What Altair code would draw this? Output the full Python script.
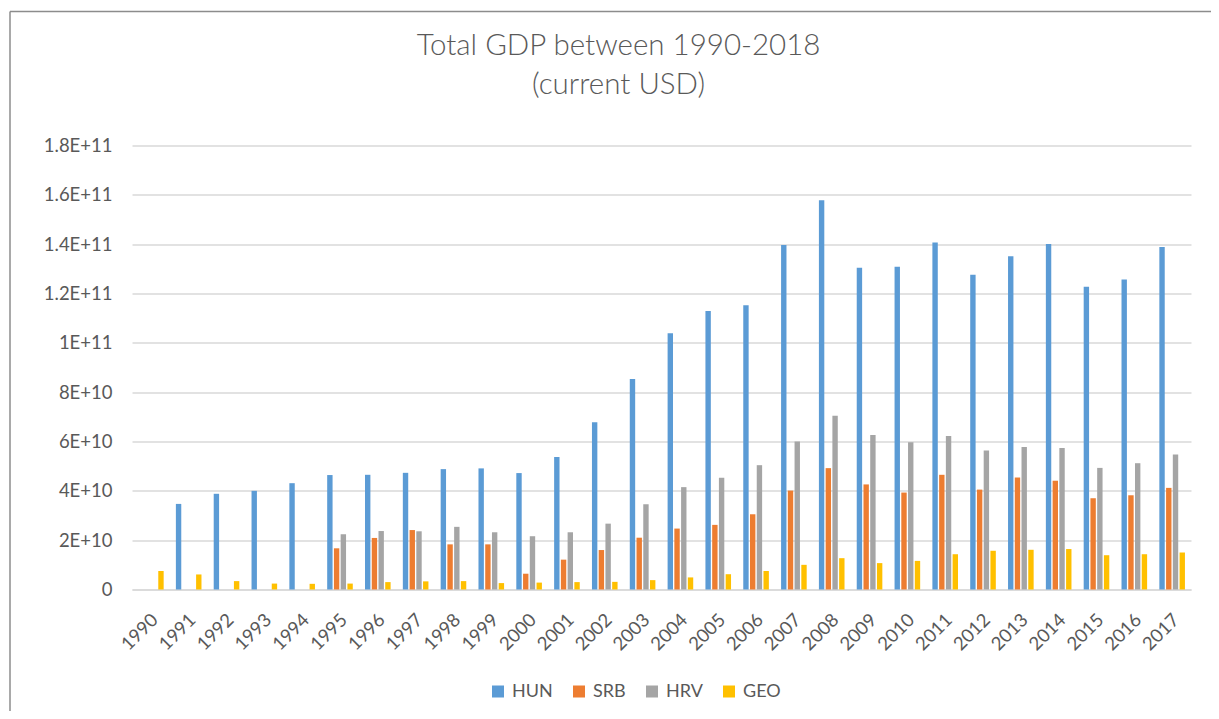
import altair as alt
import pandas as pd

years = [str(y) for y in range(1990, 2018)]
series = ["HUN", "SRB", "HRV", "GEO"]
colors = ["#5B9BD5", "#ED7D31", "#A5A5A5", "#FFC000"]

# values in units of 1e10 USD (None = no data)
HUN = [None, 3.47, 3.88, 4.00, 4.31, 4.64, 4.65, 4.73, 4.88, 4.91, 4.72, 5.37, 6.78, 8.53,
       10.39, 11.29, 11.52, 13.97, 15.78, 13.04, 13.08, 14.07, 12.76, 13.51, 14.01, 12.27, 12.57, 13.89]
SRB = [None, None, None, None, None, 1.67, 2.09, 2.41, 1.83, 1.83, 0.64, 1.21, 1.60, 2.10,
       2.47, 2.62, 3.05, 4.01, 4.92, 4.26, 3.93, 4.65, 4.05, 4.54, 4.41, 3.70, 3.82, 4.12]
HRV = [None, None, None, None, None, 2.24, 2.37, 2.36, 2.54, 2.32, 2.16, 2.32, 2.67, 3.46,
       4.15, 4.53, 5.04, 6.00, 7.04, 6.26, 5.97, 6.22, 5.64, 5.78, 5.74, 4.93, 5.12, 5.47]
GEO = [0.75, 0.61, 0.34, 0.24, 0.23, 0.24, 0.30, 0.33, 0.34, 0.26, 0.28, 0.30, 0.31, 0.38,
       0.49, 0.62, 0.75, 1.00, 1.27, 1.07, 1.16, 1.43, 1.57, 1.61, 1.64, 1.39, 1.43, 1.50]
y_ticks = [0, 2e10, 4e10, 6e10, 8e10, 1e11, 1.2e11, 1.4e11, 1.6e11, 1.8e11]

rows = []
for name, vals in zip(series, [HUN, SRB, HRV, GEO]):
    for yr, v in zip(years, vals):
        if v is not None:
            rows.append({"year": yr, "country": name, "gdp": v * 1e10})
df = pd.DataFrame(rows)

FONT = "Lato"
TXT = "#595959"
GRID = "#D9D9D9"
W, H = 1059, 444

bars = alt.Chart(df).mark_bar().encode(
    x=alt.X("year:N", sort=years,
            scale=alt.Scale(paddingInner=0.323, paddingOuter=0.16),
            axis=alt.Axis(title=None, labelAngle=-45, labelFontSize=18.5, labelFont=FONT,
                          labelColor=TXT, ticks=False, domainColor=GRID, domainWidth=1.5,
                          labelPadding=27, labelOffset=4, labelAlign="right",
                          labelBaseline="middle")),
    xOffset=alt.XOffset("country:N", sort=series,
                        scale=alt.Scale(domain=series, paddingInner=0.2)),
    y=alt.Y("gdp:Q", scale=alt.Scale(domain=[0, 1.8e11], nice=False),
            axis=alt.Axis(title=None, values=y_ticks, domain=False, ticks=False,
                          labelFontSize=18.5, labelFont=FONT, labelColor=TXT, labelPadding=20,
                          gridColor=GRID, gridWidth=1.3,
                          labelExpr="datum.value == 0 ? '0' : replace(format(datum.value, '.2~e'), 'e', 'E')")),
    color=alt.Color("country:N", sort=series,
                    scale=alt.Scale(domain=series, range=colors),
                    legend=alt.Legend(title=None, orient="none", direction="horizontal",
                                      legendX=357, legendY=537, symbolType="square",
                                      symbolSize=144, symbolStrokeWidth=0, labelFontSize=18,
                                      labelFont=FONT, labelColor=TXT, columnPadding=17,
                                      labelOffset=5)),
)

frame_left = alt.Chart(alt.Data(values=[{"a": 1}])).mark_rule(
    stroke="#8C8C8C", strokeWidth=1.5
).encode(x=alt.value(-122), y=alt.value(-134), y2=alt.value(620))

frame_top = alt.Chart(alt.Data(values=[{"a": 1}])).mark_rule(
    stroke="#8C8C8C", strokeWidth=1.5
).encode(x=alt.value(-122), x2=alt.value(1100), y=alt.value(-134))

chart = alt.layer(frame_left, frame_top, bars).properties(
    width=W, height=H,
    background="white",
    autosize=alt.AutoSizeParams(type="none"),
    padding={"left": 124, "top": 137.5, "right": 20, "bottom": 121.5},
    title=alt.Title(["Total GDP between 1990-2018", "(current USD)"], font=FONT,
                    fontSize=29.5, fontWeight=300, color=TXT, anchor="middle",
                    dx=-43, offset=-90, lineHeight=39),
).configure_view(stroke="transparent", strokeWidth=0)

chart.save("out.html", embed_options={"renderer": "svg", "actions": False})
